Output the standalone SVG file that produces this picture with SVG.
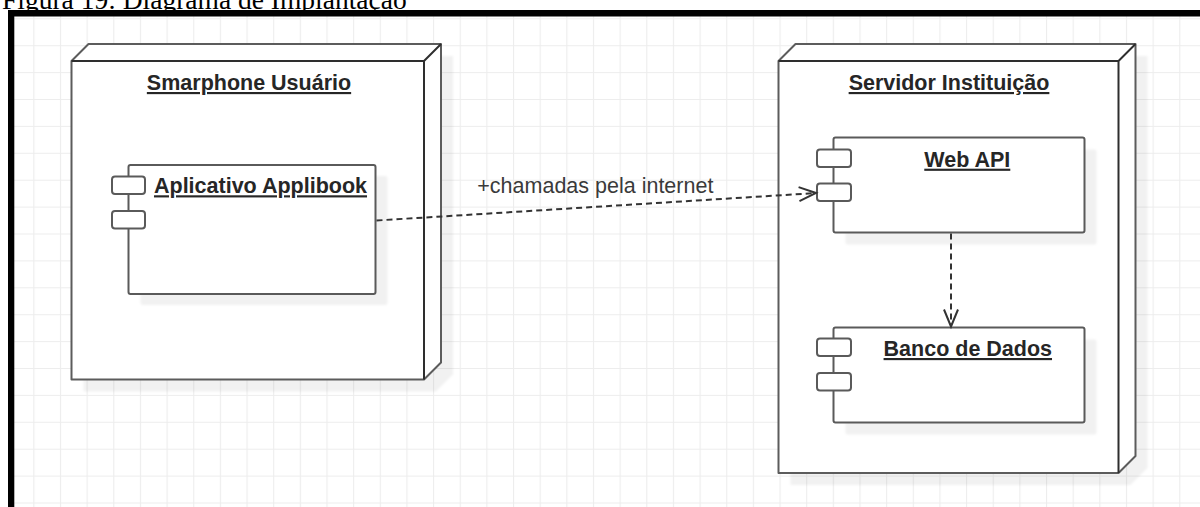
<svg xmlns="http://www.w3.org/2000/svg" width="1200" height="507" viewBox="0 0 1200 507">
  <defs>
    <pattern id="grid" patternUnits="userSpaceOnUse" x="33.3" y="18.3" width="26.65" height="26.9">
      <path d="M0.5 0 V26.9 M0 0.5 H26.65" fill="none" stroke="#ededed" stroke-width="1.2"/>
    </pattern>
    <filter id="soft" x="-5%" y="-5%" width="110%" height="110%">
      <feGaussianBlur stdDeviation="1.2"/>
    </filter>
    <marker id="open-arrow" markerUnits="userSpaceOnUse" markerWidth="24" markerHeight="20" viewBox="-20 -10 24 20" refX="0" refY="0" orient="auto">
      <path d="M-17,-7 L0,0 L-17,7" fill="none" stroke="#333" stroke-width="2" stroke-linejoin="miter"/>
    </marker>
  </defs>
  <style>
    .shadow { fill: #000; fill-opacity: 0.055; filter: url(#soft); }
    .node-body { fill: #fff; stroke: #5c5c5c; stroke-width: 2; stroke-linejoin: round; }
    .node-edge { fill: none; stroke: #2e2e2e; stroke-width: 2; }
    .comp { fill: #fff; stroke: #5a5a5a; stroke-width: 2; }
    .title { font-family: "Liberation Sans", Arial, sans-serif; font-size: 21.5px; font-weight: bold; fill: #262626; text-anchor: middle; text-decoration: underline; }
    .conn { fill: none; stroke: #333; stroke-width: 2; stroke-dasharray: 6 4; }
    .conn-label { font-family: "Liberation Sans", Arial, sans-serif; font-size: 21.5px; fill: #3a3a3a; }
  </style>

  <!-- page -->
  <rect x="0" y="0" width="1200" height="507" fill="#fff"/>
  <rect x="14" y="16" width="1186" height="491" fill="url(#grid)"/>
  <text x="2" y="8.5" font-family="Liberation Serif, Times New Roman, serif" font-size="27.5" fill="#000">Figura 19: Diagrama de Implantação</text>
  <rect x="8" y="10" width="1192" height="6.5" fill="#000"/>
  <rect x="8" y="10" width="6.3" height="497" fill="#000"/>

  <!-- deployment node: smartphone -->
  <g id="node-smartphone">
    <path class="shadow" d="M83.5,73 L100.5,56 L453,56 L453,374.5 L436,391.5 L83.5,391.5 Z"/>
    <path class="node-body" d="M71.5,61 L88.5,44 L441,44 L441,362.5 L424,379.5 L71.5,379.5 Z"/>
    <path class="node-edge" d="M71.5,61 H424 V379.5 M424,61 L441,44"/>
    <text class="title" x="249" y="90">Smarphone Usuário</text>
  </g>

  <!-- component: app -->
  <g id="comp-app">
    <rect class="shadow" x="140.5" y="176" width="247" height="129" rx="2"/>
    <rect class="comp" x="128.5" y="165" width="247" height="129" rx="2"/>
    <rect class="comp" x="112" y="176.5" width="33" height="17.5" rx="3"/>
    <rect class="comp" x="112" y="211" width="33" height="17.5" rx="3"/>
    <text class="title" x="260.5" y="193.3">Aplicativo Applibook</text>
  </g>

  <!-- deployment node: server -->
  <g id="node-server">
    <path class="shadow" d="M790.5,73 L807.5,56 L1147.5,56 L1147.5,468 L1130.5,485 L790.5,485 Z"/>
    <path class="node-body" d="M778.5,61 L795.5,44 L1135.5,44 L1135.5,456 L1118.5,473 L778.5,473 Z"/>
    <path class="node-edge" d="M778.5,61 H1118.5 V473 M1118.5,61 L1135.5,44"/>
    <text class="title" x="949" y="90">Servidor Instituição</text>
  </g>

  <!-- component: web api -->
  <g id="comp-webapi">
    <rect class="shadow" x="845.5" y="149.5" width="251" height="95" rx="2"/>
    <rect class="comp" x="833.5" y="137.5" width="251" height="95" rx="2"/>
    <rect class="comp" x="817" y="149.5" width="34" height="17.5" rx="3"/>
    <rect class="comp" x="817" y="183.5" width="34" height="17.5" rx="3"/>
    <text class="title" x="967.3" y="166.7">Web API</text>
  </g>

  <!-- component: database -->
  <g id="comp-database">
    <rect class="shadow" x="845.5" y="339.5" width="251" height="95" rx="2"/>
    <rect class="comp" x="833.5" y="327.5" width="251" height="95" rx="2"/>
    <rect class="comp" x="817" y="338.5" width="34" height="17.5" rx="3"/>
    <rect class="comp" x="817" y="373" width="34" height="17.5" rx="3"/>
    <text class="title" x="967.8" y="356">Banco de Dados</text>
  </g>

  <!-- dependencies -->
  <g id="connectors">
    <path class="conn" d="M376.5,220.5 L816,193" marker-end="url(#open-arrow)"/>
    <text class="conn-label" x="477.3" y="192.7">+chamadas pela internet</text>
    <path class="conn" d="M951,233.5 L951,326.5" marker-end="url(#open-arrow)"/>
  </g>
</svg>
